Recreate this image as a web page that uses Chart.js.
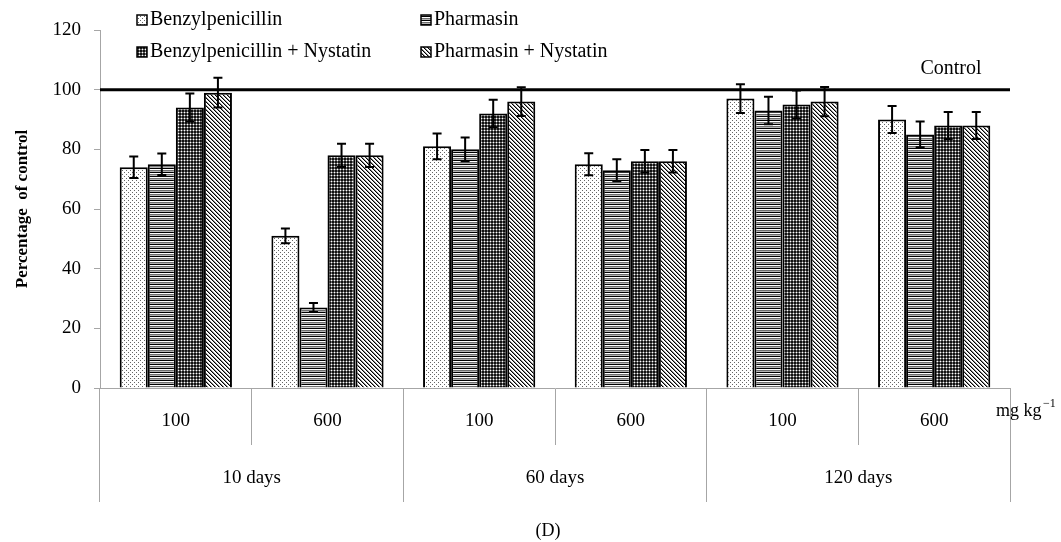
<!DOCTYPE html>
<html>
<head>
<meta charset="utf-8">
<script src="https://cdn.jsdelivr.net/npm/chart.js@4"></script>
<style>
  body { margin: 0; background: #fff; }
  #wrap { width: 1061px; height: 542px; }
</style>
</head>
<body>
<div id="wrap"><canvas id="barChart" width="1061" height="542"></canvas></div>
<script>
// data
var doses = ['100', '600', '100', '600', '100', '600'];
var periods = ['10 days', '60 days', '120 days'];
var seriesNames = ['Benzylpenicillin', 'Pharmasin', 'Benzylpenicillin + Nystatin', 'Pharmasin + Nystatin'];
var benzyl = [74, 51, 81, 75, 97, 90];
var pharmasin = [75, 27, 80, 73, 93, 85];
var benzylNys = [94, 78, 92, 76, 95, 88];
var pharmNys = [99, 78, 96, 76, 96, 88];
var benzylErr = [3.6, 2.5, 4.3, 3.7, 4.8, 4.5];
var pharmasinErr = [3.6, 1.5, 4.0, 3.7, 4.6, 4.3];
var benzylNysErr = [4.7, 3.9, 4.6, 3.8, 4.7, 4.5];
var pharmNysErr = [5.0, 3.9, 4.8, 3.8, 4.9, 4.5];
var controlValue = 100;
var yTicks = [0, 20, 40, 60, 80, 100, 120];

var FONT = "'Liberation Serif', 'Times New Roman', serif";
var ctx = document.getElementById('barChart').getContext('2d');

function makePattern(size, paint) {
    var c = document.createElement('canvas');
    c.width = size; c.height = size;
    var g = c.getContext('2d');
    paint(g, size);
    return ctx.createPattern(c, 'repeat');
}
function px(g, x, y, col) { g.fillStyle = col; g.fillRect(x, y, 1, 1); }

var dotted = makePattern(4, function (g) {
    g.fillStyle = '#fff'; g.fillRect(0, 0, 4, 4);
    px(g, 0, 0, '#666'); px(g, 2, 2, '#666');
});
var hstripes = makePattern(4, function (g) {
    var cols = ['#000', '#fff', '#6e6e6e', '#b4b4b4'];
    for (var y = 0; y < 4; y++) { g.fillStyle = cols[y]; g.fillRect(0, y, 4, 1); }
});
var checker = makePattern(3, function (g) {
    g.fillStyle = '#111'; g.fillRect(0, 0, 3, 3);
    g.fillStyle = '#6a6a6a'; g.fillRect(1, 0, 1, 3); g.fillRect(0, 1, 3, 1);
    px(g, 1, 1, '#fff');
});
var diag = makePattern(4, function (g) {
    var cols = ['#000', '#8a8a8a', '#fff', '#fff'];
    for (var x = 0; x < 4; x++) for (var y = 0; y < 4; y++) px(g, x, y, cols[((x - y) % 4 + 4) % 4]);
});
var fills = [dotted, hstripes, checker, diag];

var errorBars = {
    id: 'errorBars',
    afterDatasetsDraw: function (chart) {
        var c = chart.ctx, y = chart.scales.y, area = chart.chartArea;
        // control line
        var cy = y.getPixelForValue(controlValue);
        c.save();
        c.strokeStyle = '#000';
        c.lineWidth = 3;
        c.beginPath(); c.moveTo(area.left, cy); c.lineTo(area.right, cy); c.stroke();
        c.fillStyle = '#000';
        c.font = '20px ' + FONT;
        c.textAlign = 'center'; c.textBaseline = 'middle';
        c.fillText('Control', 951, cy - 21);
        // error bars
        c.lineWidth = 2;
        chart.data.datasets.forEach(function (ds, i) {
            chart.getDatasetMeta(i).data.forEach(function (bar, j) {
                var top = y.getPixelForValue(ds.data[j] + ds.errors[j]);
                var bot = y.getPixelForValue(ds.data[j] - ds.errors[j]);
                c.beginPath();
                c.moveTo(bar.x, top); c.lineTo(bar.x, bot);
                c.moveTo(bar.x - 4.5, top); c.lineTo(bar.x + 4.5, top);
                c.moveTo(bar.x - 4.5, bot); c.lineTo(bar.x + 4.5, bot);
                c.stroke();
            });
        });
        c.restore();
    }
};

var extras = {
    id: 'extras',
    afterDraw: function (chart) {
        var c = chart.ctx;
        c.save();
        c.fillStyle = '#000';
        c.textBaseline = 'middle';
        c.font = '20px ' + FONT;
        // legend
        var spots = [[137, 20], [421, 20], [137, 52], [421, 52]];
        seriesNames.forEach(function (name, i) {
            var x = spots[i][0], y = spots[i][1];
            c.fillStyle = fills[i];
            c.fillRect(x, y - 5, 10, 10);
            c.strokeStyle = '#000'; c.lineWidth = 1.5;
            c.strokeRect(x, y - 5, 10, 10);
            c.fillStyle = '#000';
            c.textAlign = 'left';
            c.fillText(name, x + 13, y);
        });
        // unit label
        c.font = '18px ' + FONT;
        c.fillText('mg kg', 996, 411);
        c.font = '12px ' + FONT;
        c.fillText('\u22121', 1043, 404);
        // panel tag
        c.font = '18px ' + FONT;
        c.textAlign = 'center';
        c.fillText('(D)', 548, 531);
        c.restore();
    }
};

var datasets = [benzyl, pharmasin, benzylNys, pharmNys].map(function (vals, i) {
    return {
        label: seriesNames[i],
        data: vals,
        errors: [benzylErr, pharmasinErr, benzylNysErr, pharmNysErr][i],
        backgroundColor: fills[i],
        borderColor: '#000',
        borderWidth: 2,
        categoryPercentage: 0.74,
        barPercentage: 1.0
    };
});

var barChart = new Chart(ctx, {
    type: 'bar',
    data: { labels: doses, datasets: datasets },
    plugins: [errorBars, extras],
    options: {
        responsive: false,
        animation: false,
        layout: { padding: { top: 30, left: 0, right: 51, bottom: 40 } },
        plugins: { legend: { display: false }, tooltip: { enabled: false } },
        scales: {
            x: {
                position: 'bottom',
                offset: true,
                grid: { offset: true, drawOnChartArea: false, tickLength: 57, color: '#a6a6a6', lineWidth: 1 },
                border: { color: '#a6a6a6', width: 1 },
                ticks: { padding: -35, color: '#000', font: { family: FONT, size: 19 }, maxRotation: 0 },
                afterFit: function (s) { s.height = 57; }
            },
            x2: {
                type: 'category',
                position: 'bottom',
                labels: periods,
                offset: true,
                grid: { offset: true, drawOnChartArea: false, tickLength: 57, color: '#a6a6a6', lineWidth: 1 },
                border: { display: false },
                ticks: { padding: -35, color: '#000', font: { family: FONT, size: 19 }, maxRotation: 0 },
                afterFit: function (s) { s.height = 57; }
            },
            y: {
                min: 0, max: 120,
                afterBuildTicks: function (s) { s.ticks = yTicks.map(function (v) { return { value: v }; }); },
                grid: { drawOnChartArea: false, tickLength: 6, color: '#a6a6a6' },
                border: { color: '#a6a6a6', width: 1 },
                ticks: { padding: 13, color: '#000', font: { family: FONT, size: 19 } },
                title: {
                    display: true,
                    text: 'Percentage  of control',
                    color: '#000',
                    font: { family: FONT, size: 17, weight: 'bold' },
                    padding: { top: 12, bottom: 0 }
                },
                afterFit: function (s) { s.width = 100; }
            }
        }
    }
});
</script>
</body>
</html>
